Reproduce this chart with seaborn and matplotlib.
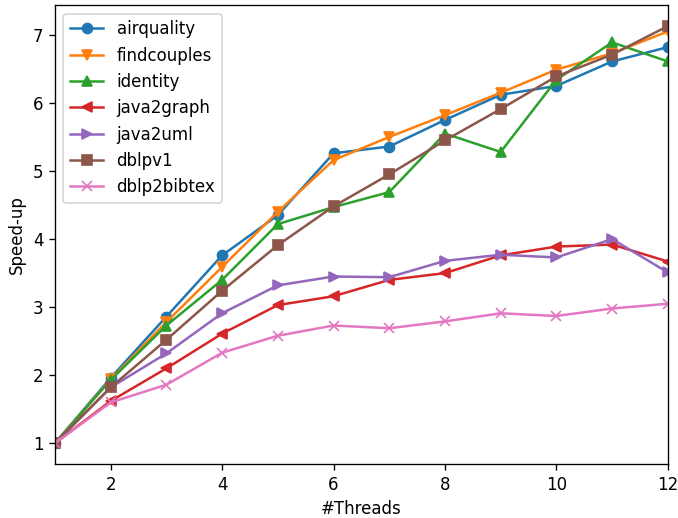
import pandas as pd
import matplotlib
matplotlib.use("Agg")
import matplotlib.pyplot as plt
import seaborn as sns

threads = list(range(1, 13))
benchmarks = ["airquality", "findcouples", "identity", "java2graph", "java2uml", "dblpv1", "dblp2bibtex"]

airquality = [1.0, 1.96, 2.86, 3.76, 4.35, 5.26, 5.36, 5.75, 6.12, 6.25, 6.61, 6.82]
findcouples = [1.0, 1.94, 2.78, 3.59, 4.40, 5.16, 5.50, 5.82, 6.15, 6.49, 6.73, 7.05]
identity = [1.0, 1.93, 2.73, 3.40, 4.22, 4.47, 4.69, 5.55, 5.28, 6.34, 6.89, 6.61]
java2graph = [1.0, 1.62, 2.10, 2.61, 3.03, 3.16, 3.40, 3.50, 3.76, 3.89, 3.92, 3.67]
java2uml = [1.0, 1.82, 2.32, 2.91, 3.32, 3.45, 3.44, 3.68, 3.77, 3.73, 4.00, 3.51]
dblpv1 = [1.0, 1.82, 2.52, 3.24, 3.91, 4.48, 4.95, 5.45, 5.91, 6.39, 6.71, 7.13]
dblp2bibtex = [1.0, 1.60, 1.86, 2.33, 2.58, 2.73, 2.69, 2.79, 2.91, 2.87, 2.98, 3.05]

series = [airquality, findcouples, identity, java2graph, java2uml, dblpv1, dblp2bibtex]
markers = ["o", "v", "^", "<", ">", "s", "x"]
colors = sns.color_palette("tab10", len(benchmarks))

fig, ax = plt.subplots(figsize=(678 / 120, 518 / 120), dpi=120)
fig.subplots_adjust(left=0.081, right=0.985, top=0.99, bottom=0.104)

for name, vals, m, c in zip(benchmarks, series, markers, colors):
    df = pd.DataFrame({"threads": threads, "speedup": vals})
    sns.lineplot(data=df, x="threads", y="speedup", marker=m, color=c, label=name,
                 markersize=6, linewidth=1.5, markeredgecolor=c, markeredgewidth=1, ax=ax)

ax.set_xlim(1, 12)
ax.set_xlabel("#Threads")
ax.set_ylabel("Speed-up")
ax.legend(loc="upper left")

fig.savefig("out.png", dpi=120)
